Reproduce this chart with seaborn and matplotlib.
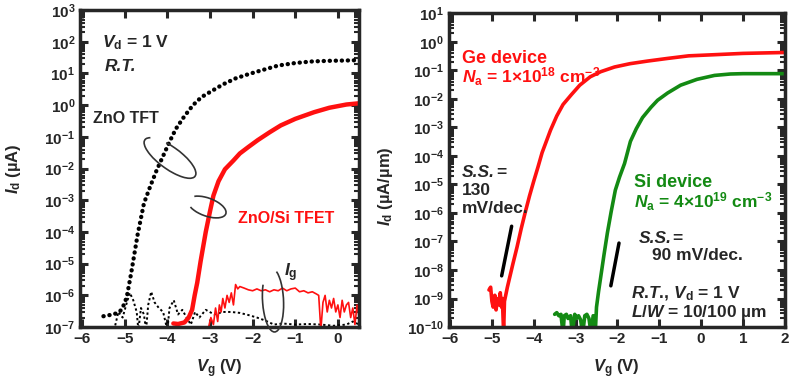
import numpy as np
import pandas as pd
import matplotlib
matplotlib.use("Agg")
import matplotlib.pyplot as plt
import seaborn as sns
from matplotlib.patches import Arc
from matplotlib.ticker import LogLocator, NullFormatter

# ─── Data: left panel (ZnO TFT vs ZnO/Si TFET), Id in uA ─────────────────
tft_vg = [-5.5, -5.35, -5.2, -5.1, -5.0, -4.94, -4.85, -4.7, -4.55, -4.4, -4.25, -4.1,
          -3.95, -3.8, -3.6, -3.4, -3.2, -3.0, -2.7, -2.4, -2.1, -1.8, -1.4, -1.0,
          -0.6, -0.2, 0.2, 0.5]
tft_id = [2.2e-7, 2.4e-7, 2.7e-7, 3.3e-7, 5.6e-7, 1.1e-6, 5.0e-6, 8.0e-5, 8.0e-4, 2.8e-3,
          9.0e-3, 2.5e-2, 7.0e-2, 0.18, 0.45, 1.0, 1.8, 2.6, 4.5, 7.0, 9.5, 12.5, 17.8,
          21.4, 24.0, 25.1, 25.7, 26.3]
tft_ig_vg = [-5.25, -5.15, -5.05, -4.95, -4.88, -4.8, -4.72, -4.68, -4.62, -4.55, -4.5,
             -4.45, -4.38, -4.3, -4.2, -4.1, -4.0, -3.95, -3.85, -3.75, -3.65, -3.55,
             -3.45, -3.35, -3.25, -3.1, -2.9, -2.7, -2.5, -2.3, -2.1, -1.9, -1.7, -1.5,
             -1.3, -1.0, -0.7, -0.4, -0.1, 0.2, 0.35, 0.5]
tft_ig = [8e-8, 3e-7, 2e-7, 6e-7, 1.2e-6, 7e-7, 3e-7, 8e-8, 4e-7, 2.5e-7, 8e-8,
          5e-7, 1.3e-6, 6e-7, 4e-7, 3e-7, 8e-8, 4e-7, 7e-7, 2.5e-7, 3.5e-7, 2e-7,
          1.2e-7, 3e-7, 2e-7, 3.5e-7, 2.5e-7, 3e-7, 3e-7, 2.8e-7, 2.4e-7, 2e-7, 1.6e-7,
          1.2e-7, 1.3e-7, 1.2e-7, 1.25e-7, 1.2e-7, 1.1e-7, 1.2e-7, 1.5e-7, 1.2e-7]

tfet_vg = [-3.86, -3.75, -3.6, -3.5, -3.42, -3.36, -3.3, -3.22, -3.1, -3.0, -2.92,
           -2.8, -2.65, -2.45, -2.3, -2.1, -1.88, -1.6, -1.34, -1.0, -0.56, -0.2, 0.2, 0.5]
tfet_id = [1.3e-7, 1.25e-7, 1.4e-7, 2.0e-7, 3.5e-7, 1.0e-6, 2.5e-6, 1.2e-5, 1.0e-4,
           4.5e-4, 1.4e-3, 4.0e-3, 9.5e-3, 1.8e-2, 3.0e-2, 4.8e-2, 7.9e-2, 0.14, 0.23,
           0.37, 0.60, 0.83, 1.05, 1.15]
tfet_ig_vg = [-3.05, -2.98, -2.92, -2.87, -2.82, -2.78, -2.74, -2.7, -2.65, -2.6, -2.55,
              -2.5, -2.45, -2.4, -2.35, -2.3, -2.2, -2.1, -2.0, -1.9, -1.8, -1.7, -1.6,
              -1.5, -1.4, -1.3, -1.2, -1.1, -1.0, -0.9, -0.8, -0.7, -0.6, -0.5, -0.45,
              -0.4, -0.35, -0.3, -0.25, -0.2, -0.15, -0.1, -0.05, 0.0, 0.05, 0.1, 0.15,
              0.2, 0.25, 0.3, 0.35, 0.4, 0.45, 0.5]
tfet_ig = [8e-8, 2e-7, 1.2e-7, 4e-7, 1.5e-7, 5e-7, 3e-7, 8e-7, 4e-7, 1.0e-6, 6e-7,
           1.2e-6, 5e-7, 2.2e-6, 1.6e-6, 1.9e-6, 1.7e-6, 1.5e-6, 1.4e-6, 1.6e-6, 1.4e-6,
           1.5e-6, 1.3e-6, 1.5e-6, 1.4e-6, 1.7e-6, 1.4e-6, 1.6e-6, 1.7e-6, 1.3e-6, 1.4e-6,
           1.2e-6, 1.3e-6, 1.1e-6, 1.0e-6, 8e-8, 6e-7, 1.0e-6, 3e-7, 7e-7, 4e-7, 8e-7,
           3e-7, 5e-7, 2e-7, 7e-7, 3e-7, 5e-7, 6e-7, 2e-7, 4e-7, 1.2e-7, 5e-7, 2e-7]

# ─── Data: right panel (Ge vs Si device), Id in uA/um ────────────────────
ge_vg = [-5.07, -5.03, -5.0, -4.97, -4.93, -4.9, -4.87, -4.83, -4.8, -4.77, -4.75,
         -4.72, -4.7, -4.67, -4.63, -4.5, -4.4, -4.3, -4.2, -4.1, -4.0, -3.9, -3.8,
         -3.7, -3.6, -3.45, -3.3, -3.1, -2.9, -2.65, -2.4, -2.07, -1.7, -1.28, -0.8,
         -0.3, 0.3, 1.0, 2.0]
ge_id = [2.0e-9, 2.5e-9, 8e-10, 5e-10, 1.3e-9, 4e-10, 1.0e-9, 6e-10, 1.6e-9, 5e-10,
         1.0e-9, 6e-11, 8e-10, 1.3e-9, 2.5e-9, 1.6e-8, 6.3e-8, 2.8e-7, 1.1e-6, 4.0e-6,
         1.3e-5, 4.0e-5, 1.3e-4, 3.2e-4, 7.9e-4, 2.5e-3, 6.3e-3, 1.4e-2, 3.0e-2,
         5.9e-2, 8.9e-2, 0.13, 0.17, 0.21, 0.26, 0.32, 0.35, 0.39, 0.42]
si_vg = [-3.5, -3.45, -3.4, -3.35, -3.3, -3.27, -3.22, -3.18, -3.12, -3.08, -3.02,
         -2.98, -2.93, -2.88, -2.83, -2.78, -2.73, -2.68, -2.63, -2.58, -2.53, -2.5,
         -2.45, -2.4, -2.32, -2.24, -2.15, -2.05, -1.95, -1.83, -1.69, -1.55, -1.4,
         -1.2, -1.04, -0.8, -0.49, -0.1, 0.32, 0.7, 1.0, 1.5, 2.0]
si_id = [2.8e-10, 3.2e-10, 2.5e-10, 2.8e-10, 6e-11, 2.5e-10, 2.8e-10, 2.0e-10,
         2.5e-10, 6e-11, 2.8e-10, 2.0e-10, 2.5e-10, 1.8e-10, 6e-11, 2.5e-10, 2.8e-10,
         2.0e-10, 6e-11, 2.5e-10, 6e-11, 5e-10, 1.8e-9, 5.6e-9, 3.5e-8, 2.0e-7,
         1.1e-6, 6.3e-6, 1.8e-5, 5.4e-5, 3.2e-4, 8.9e-4, 2.2e-3, 5.0e-3, 8.9e-3,
         1.6e-2, 3.0e-2, 4.8e-2, 6.6e-2, 7.4e-2, 7.6e-2, 7.6e-2, 7.6e-2]

RED = "#ff1010"
GREEN = "#138a13"

# ─── Style ────────────────────────────────────────────────────────────────
sns.set_theme(style="ticks")
plt.rcParams.update({
    "font.family": ["Liberation Sans", "DejaVu Sans"],
    "font.weight": "bold",
    "mathtext.fontset": "custom",
    "mathtext.rm": "Liberation Sans:bold",
    "mathtext.it": "Liberation Sans:italic:bold",
    "mathtext.bf": "Liberation Sans:bold",
    "axes.linewidth": 2.5,
})

fig = plt.figure(figsize=(8, 3.88), dpi=100)
ax1 = fig.add_axes([0.100, 0.157, 0.349, 0.817])
ax2 = fig.add_axes([0.561, 0.157, 0.420, 0.809])


def style_axes(ax, ylim, xlim, xticks):
    ax.set_yscale("log")
    ax.set_ylim(*ylim)
    ax.set_xlim(*xlim)
    ax.set_xticks(xticks)
    ax.set_xticklabels([f"{t:g}".replace("-", "\u2212") for t in xticks])
    ax.yaxis.set_major_locator(LogLocator(base=10, numticks=30))
    ax.yaxis.set_minor_locator(LogLocator(base=10, subs=np.arange(2, 10), numticks=30))
    ax.yaxis.set_minor_formatter(NullFormatter())
    ax.tick_params(which="both", direction="in", top=True, right=True, labelsize=11)
    ax.tick_params(which="major", length=6, width=2.2)
    ax.tick_params(which="minor", length=3.5, width=1.5)
    for lab in ax.get_xticklabels() + ax.get_yticklabels():
        lab.set_fontweight("bold")


# ─── Left panel ───────────────────────────────────────────────────────────
sns.lineplot(x=tft_ig_vg, y=tft_ig, ax=ax1, color="black", lw=1.4, sort=False,
             estimator=None, linestyle=(0, (1.2, 1.3)))
sns.lineplot(x=tfet_ig_vg, y=tfet_ig, ax=ax1, color=RED, lw=1.2, sort=False, estimator=None)
sns.lineplot(x=tft_vg, y=tft_id, ax=ax1, color="black", lw=3.1, sort=False, estimator=None,
             linestyle=(0, (0.05, 1.35)), dash_capstyle="round")
sns.lineplot(x=tfet_vg, y=tfet_id, ax=ax1, color=RED, lw=3.2, sort=False, estimator=None)
style_axes(ax1, (1e-7, 1e3), (-6.05, 0.5), [-6, -5, -4, -3, -2, -1, 0])
ax1.set_ylabel(r"$I_\mathrm{d}$ (µA)", fontsize=12, fontweight="bold")
ax1.set_xlabel(r"$V_\mathrm{g}$ (V)", fontsize=12, fontweight="bold")
ax1.yaxis.set_label_coords(-0.205, 0.5)
ax1.xaxis.set_label_coords(0.5, -0.095)

ax1.text(-5.53, 10**1.96, r"$V_\mathrm{d}$ = 1 V", fontsize=12.5, va="center")
ax1.text(-5.48, 10**1.23, "R.T.", fontsize=12.5, style="italic", va="center")
ax1.text(-5.74, 10**-0.41, "ZnO TFT", fontsize=11.5, va="center")
ax1.text(-2.35, 10**-3.56, "ZnO/Si TFET", fontsize=11.5, va="center", color=RED)
ax1.text(-1.27, 10**-5.27, r"$I_\mathrm{g}$", fontsize=12.5, va="center")

tr = fig.dpi_scale_trans
for cx, cy, w, h, ang, t1, t2 in [(1.70, 2.30, 0.62, 0.22, -36, 170, 500),
                                  (2.07, 1.81, 0.40, 0.18, -20, 200, 520),
                                  (2.73, 0.88, 0.21, 0.64, 3, 120, 440)]:
    fig.patches.append(Arc((cx, cy), w, h, angle=ang, theta1=t1, theta2=t2,
                           transform=tr, color="#333333", lw=1.2))

# ─── Right panel ──────────────────────────────────────────────────────────
sns.lineplot(x=ge_vg, y=ge_id, ax=ax2, color=RED, lw=2.6, sort=False, estimator=None)
sns.lineplot(x=si_vg, y=si_id, ax=ax2, color=GREEN, lw=2.6, sort=False, estimator=None)
style_axes(ax2, (1e-10, 1e1), (-6.03, 2.0), [-6, -5, -4, -3, -2, -1, 0, 1, 2])
ax2.set_ylabel(r"$I_\mathrm{d}$ (µA/µm)", fontsize=12, fontweight="bold")
ax2.set_xlabel(r"$V_\mathrm{g}$ (V)", fontsize=12, fontweight="bold")
ax2.yaxis.set_label_coords(-0.16, 0.45)
ax2.xaxis.set_label_coords(0.5, -0.096)

ax2.annotate("", xy=(-4.78, 10**-8.3), xytext=(-4.515, 10**-6.37),
             arrowprops=dict(arrowstyle="-", lw=2.5, color="black"))
ax2.annotate("", xy=(-2.17, 10**-8.65), xytext=(-1.95, 10**-6.96),
             arrowprops=dict(arrowstyle="-", lw=2.5, color="black"))

ax2.text(-5.71, 10**-0.6, "Ge device", fontsize=13, va="center", color=RED)
ax2.text(-5.71, 10**-1.24, r"$N_\mathrm{a}$ = 1×10$^{18}$ cm$^{-3}$", fontsize=12.5,
         va="center", color=RED)
ax2.text(-5.71, 10**-4.58, "S.S.", fontsize=12.5, style="italic", va="center")
ax2.text(-4.9, 10**-4.58, "=", fontsize=12.5, va="center")
ax2.text(-5.71, 10**-5.21, "130", fontsize=12.5, va="center")
ax2.text(-5.71, 10**-5.84, "mV/dec.", fontsize=12.5, va="center")
ax2.text(-1.6, 10**-4.92, "Si device", fontsize=13, va="center", color=GREEN)
ax2.text(-1.6, 10**-5.6, r"$N_\mathrm{a}$ = 4×10$^{19}$ cm$^{-3}$", fontsize=12.5,
         va="center", color=GREEN)
ax2.text(-1.48, 10**-6.89, "S.S.", fontsize=12.5, style="italic", va="center")
ax2.text(-0.68, 10**-6.89, "=", fontsize=12.5, va="center")
ax2.text(-1.17, 10**-7.49, "90 mV/dec.", fontsize=12.5, va="center")
ax2.text(-1.67, 10**-8.82, r"$R$.$T$., $V_\mathrm{d}$ = 1 V", fontsize=12.5, va="center")
ax2.text(-1.67, 10**-9.49, r"$L/W$ = 10/100 µm", fontsize=12.5, va="center")

fig.savefig("out.png", dpi=100)
